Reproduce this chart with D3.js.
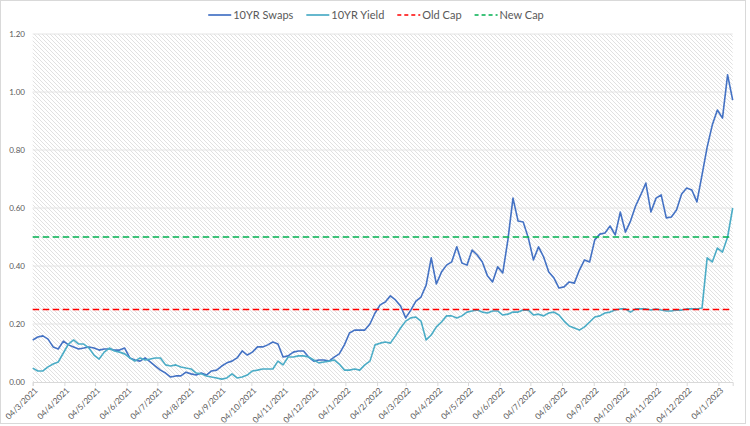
<!DOCTYPE html>
<html><head><meta charset="utf-8">
<script src="https://cdn.jsdelivr.net/npm/d3@7"></script>
<style>
body{margin:0;background:#fff;}
svg{display:block;font-family:Lato,"Liberation Sans",sans-serif;}
</style>
</head><body>
<svg id="chart" width="750" height="426"></svg>
<script>
// ---- data (one reading every 5 days) ----
const startDate = "2021-03-04";
const stepDays = 5;
const swaps = [
 0.145,0.155,0.159,0.148,0.121,0.114,0.141,0.128,0.121,0.114,
 0.117,0.121,0.117,0.110,0.114,0.114,0.110,0.110,0.117,0.083,
 0.076,0.072,0.083,0.069,0.055,0.041,0.031,0.017,0.021,0.021,
 0.034,0.028,0.024,0.031,0.024,0.038,0.041,0.055,0.066,0.072,
 0.083,0.107,0.093,0.103,0.121,0.121,0.128,0.138,0.131,0.086,
 0.090,0.103,0.107,0.107,0.086,0.072,0.076,0.076,0.072,0.086,
 0.097,0.128,0.169,0.179,0.179,0.179,0.200,0.238,0.266,0.276,
 0.297,0.283,0.262,0.221,0.248,0.279,0.293,0.334,0.428,0.338,
 0.379,0.403,0.414,0.466,0.410,0.403,0.455,0.438,0.414,0.366,
 0.345,0.397,0.376,0.490,0.634,0.555,0.552,0.497,0.421,0.466,
 0.431,0.379,0.359,0.324,0.328,0.345,0.341,0.386,0.421,0.414,
 0.490,0.510,0.514,0.538,0.507,0.586,0.517,0.555,0.607,0.645,
 0.686,0.586,0.634,0.645,0.566,0.569,0.593,0.648,0.669,0.662,
 0.621,0.714,0.810,0.886,0.938,0.910,1.059,0.972];
const yields = [
 0.048,0.038,0.038,0.052,0.062,0.069,0.100,0.131,0.145,0.131,
 0.131,0.117,0.093,0.079,0.103,0.117,0.107,0.103,0.097,0.083,
 0.072,0.083,0.076,0.079,0.083,0.083,0.059,0.055,0.059,0.052,
 0.048,0.045,0.031,0.028,0.021,0.017,0.014,0.010,0.014,0.028,
 0.014,0.017,0.024,0.038,0.041,0.045,0.045,0.045,0.072,0.059,
 0.086,0.086,0.090,0.090,0.086,0.076,0.066,0.069,0.072,0.076,
 0.062,0.041,0.041,0.045,0.041,0.059,0.072,0.128,0.134,0.138,
 0.134,0.159,0.186,0.210,0.221,0.224,0.210,0.145,0.162,0.190,
 0.207,0.228,0.228,0.221,0.228,0.241,0.245,0.248,0.241,0.238,
 0.245,0.245,0.231,0.234,0.241,0.241,0.248,0.248,0.231,0.234,
 0.228,0.238,0.241,0.231,0.210,0.193,0.186,0.179,0.190,0.207,
 0.224,0.228,0.238,0.241,0.248,0.252,0.252,0.241,0.252,0.252,
 0.252,0.248,0.252,0.248,0.245,0.245,0.248,0.248,0.252,0.252,
 0.252,0.255,0.428,0.414,0.462,0.448,0.500,0.600];
const oldCap = 0.25;
const newCap = 0.50;
const seriesNames = ["10YR Swaps","10YR Yield","Old Cap","New Cap"];
const xTickLabels = ["04/3/2021","04/4/2021","04/5/2021","04/6/2021","04/7/2021","04/8/2021",
 "04/9/2021","04/10/2021","04/11/2021","04/12/2021","04/1/2022","04/2/2022","04/3/2022",
 "04/4/2022","04/5/2022","04/6/2022","04/7/2022","04/8/2022","04/9/2022","04/10/2022",
 "04/11/2022","04/12/2022","04/1/2023"];
const yTicks = [0,0.2,0.4,0.6,0.8,1.0,1.2];

// ---- drawing ----
(function(){
const colors = {swaps:"#4472C4", yields:"#4BACC6", old:"#FF0000", nw:"#00B050"};
const svg = d3.select("#chart");
const pL = 32.7, pR = 732.7, pT = 34, pB = 382;

const start = d3.timeParse("%Y-%m-%d")(startDate);
const dates = swaps.map((_, i) => d3.timeDay.offset(start, i * stepDays));
const x = d3.scaleTime().domain([start, dates[dates.length - 1]]).range([pL, pR]);
const y = d3.scaleLinear().domain([0, 1.2]).range([pB, pT]);
const parseTick = d3.timeParse("%d/%m/%Y");
const tickDates = xTickLabels.map(parseTick);

// chart border
svg.append("rect").attr("x",0.5).attr("y",0.5).attr("width",745).attr("height",423)
  .attr("fill","#fff").attr("stroke","#d9d9d9");

// hatch pattern
const defs = svg.append("defs");
const pat = defs.append("pattern").attr("id","hatch").attr("patternUnits","userSpaceOnUse")
  .attr("width",4).attr("height",4);
pat.append("rect").attr("width",4).attr("height",4).attr("fill","#fff");
pat.append("path").attr("d","M-1,-1L5,5M-1,3L1,5M3,-1L5,1")
  .attr("stroke","#dedede").attr("stroke-width",0.9);

svg.append("rect").attr("x",pL).attr("y",pT).attr("width",pR-pL).attr("height",pB-pT)
  .attr("fill","url(#hatch)");

// gridlines
svg.append("g").selectAll("line").data(yTicks.filter(d => d > 0)).join("line")
  .attr("x1",pL).attr("x2",pR).attr("y1",d => y(d)).attr("y2",d => y(d))
  .attr("stroke","#e4e4e4").attr("stroke-width",1);

// y labels
svg.append("g").selectAll("text").data(yTicks).join("text")
  .attr("x",25).attr("y",d => y(d) + 3).attr("text-anchor","end")
  .attr("font-size","8px").attr("fill","#595959").text(d3.format(".2f"));

// x axis
const xAxis = d3.axisBottom(x).tickValues(tickDates).tickSize(4).tickFormat((d,i) => xTickLabels[i]);
const gx = svg.append("g").attr("transform",`translate(0,${pB})`).call(xAxis);
gx.select(".domain").attr("stroke","#d9d9d9");
gx.selectAll(".tick line").attr("stroke","#d9d9d9");
gx.selectAll(".tick text").attr("x",0).attr("y",0).attr("dy",0)
  .attr("transform","translate(5,9) rotate(-45)").style("text-anchor","end")
  .attr("font-size","8.3px").attr("fill","#595959").attr("font-family","Lato,'Liberation Sans',sans-serif");

// series lines
const line = d3.line().x((d,i) => x(dates[i])).y(d => y(d));
svg.append("path").datum(swaps).attr("d",line).attr("fill","none")
  .attr("stroke",colors.swaps).attr("stroke-width",1.6).attr("stroke-linejoin","round");
svg.append("path").datum(yields).attr("d",line).attr("fill","none")
  .attr("stroke",colors.yields).attr("stroke-width",1.6).attr("stroke-linejoin","round");

// caps
[[oldCap, colors.old],[newCap, colors.nw]].forEach(([v,c]) => {
  svg.append("line").attr("x1",x(dates[0])).attr("x2",x(dates[dates.length-1]))
    .attr("y1",y(v)).attr("y2",y(v)).attr("stroke",c).attr("stroke-width",1.6)
    .attr("stroke-dasharray","6.5,3.5");
});

// legend
const legItems = [
  {name: seriesNames[0], color: colors.swaps, dash: null},
  {name: seriesNames[1], color: colors.yields, dash: null},
  {name: seriesNames[2], color: colors.old, dash: "4,3"},
  {name: seriesNames[3], color: colors.nw, dash: "4,3"}
];
const leg = svg.append("g");
let cx = 0;
const legY = 15;
legItems.forEach(it => {
  const g = leg.append("g").attr("transform",`translate(${cx},0)`);
  g.append("line").attr("x1",0).attr("x2",23).attr("y1",legY).attr("y2",legY)
    .attr("stroke",it.color).attr("stroke-width",1.7).attr("stroke-dasharray",it.dash);
  const t = g.append("text").attr("x",25).attr("y",legY + 4).attr("font-size","11px")
    .attr("fill","#595959").text(it.name);
  cx += 25 + t.node().getComputedTextLength() + 13;
});
const legW = cx - 13;
leg.attr("transform",`translate(${376 - legW/2},0)`);
})();
</script>
</body></html>
